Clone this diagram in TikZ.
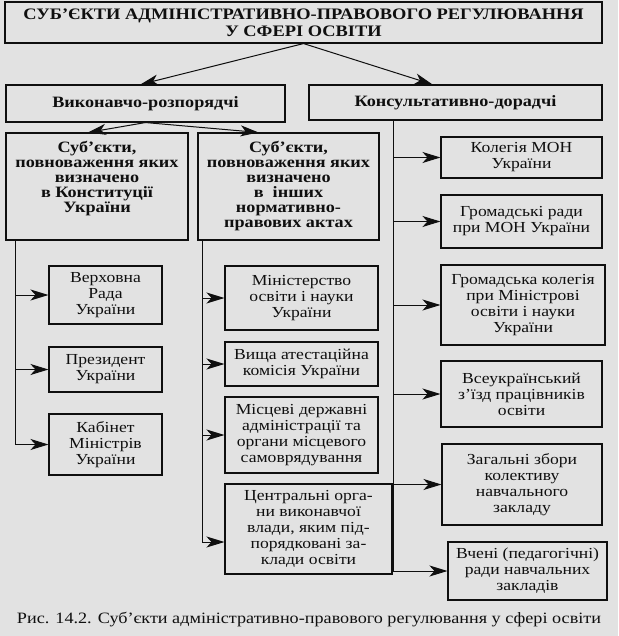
\documentclass[tikz,border=0pt]{standalone}
\usepackage{fontspec}
\setmainfont{Liberation Serif}[FakeStretch=1.15]
\usepackage{xcolor}
\usetikzlibrary{arrows.meta}
\definecolor{scanpaper}{RGB}{226,226,226}
\definecolor{scanink}{RGB}{15,15,15}
\tikzset{
  orgfont/.style={font=\fontsize{15.3}{16}\selectfont},
  orgbox/.style={draw=scanink, line width=1.1pt, align=center, inner sep=2pt, text=scanink, orgfont},
  orgboxbold/.style={orgbox, font=\fontsize{15.8}{15}\selectfont\bfseries},
  orgarrow/.style={-{Stealth[length=18pt, width=11pt, inset=5pt]}, line width=1pt, draw=scanink},
}

\begin{document}
\begin{tikzpicture}[x=1pt, y=-1pt]
		% Paper
		\fill[scanpaper] (0,0) rectangle (618,636);
		\useasboundingbox (0,0) rectangle (618,636);

		% Title and the two groups
		\node[orgboxbold, font=\fontsize{16}{17}\selectfont\bfseries, minimum width=597, minimum height=41] (title) at (303.5,22.5)
		{СУБ’ЄКТИ АДМІНІСТРАТИВНО-ПРАВОВОГО РЕГУЛЮВАННЯ\\У СФЕРІ ОСВІТИ};
		\node[orgboxbold, minimum width=279, minimum height=37] (vykon) at (145.5,103.5) {Виконавчо-розпорядчі};
		\node[orgboxbold, minimum width=293, minimum height=35] (konsult) at (455.5,102.5) {Консультативно-дорадчі};
		\draw[orgarrow] (title.south) -- ([xshift=-5pt]vykon.north);
		\draw[orgarrow] (title.south) -- ([xshift=-23pt]konsult.north);

		% Executive subgroups
		\node[orgboxbold, minimum width=182, minimum height=107] (konst) at (97,186.5)
		{Суб’єкти,\\повноваження яких\\визначено\\в Конституції\\України\\[4pt]\mbox{}};
		\node[orgboxbold, minimum width=181, minimum height=107] (inshi) at (288.5,186.5)
		{Суб’єкти,\\повноваження яких\\визначено\\в \ інших\\нормативно-\\правових актах};
		\draw[orgarrow] (vykon.south) -- ([xshift=-9pt]konst.north);
		\draw[orgarrow] (vykon.south) -- ([xshift=-30pt]inshi.north);

		% Constitution column
		\node[orgbox, minimum width=113, minimum height=58] (rada) at (105.5,295) {Верховна\\Рада\\України};
		\node[orgbox, minimum width=113, minimum height=45] (prez) at (105.5,369.5) {Президент\\України};
		\node[orgbox, minimum width=113, minimum height=61] (kabmin) at (105.5,444.5) {Кабінет\\Міністрів\\України};
		\draw[orgarrow] ([xshift=10pt]konst.south west) |- (rada.west);
		\draw[orgarrow] ([xshift=10pt]konst.south west) |- (prez.west);
		\draw[orgarrow] ([xshift=10pt]konst.south west) |- (kabmin.west);

		% Other acts column
		\node[orgbox, minimum width=153, minimum height=64] (mon) at (301.5,298) {Міністерство\\освіти і науки\\України};
		\node[orgbox, minimum width=153, minimum height=44] (vak) at (301.5,364) {Вища атестаційна\\комісія України};
		\node[orgbox, minimum width=153, minimum height=76] (mistsevi) at (301.5,435)
		{Місцеві державні\\адміністрації та\\органи місцевого\\самоврядування};
		\node[orgbox, minimum width=167, minimum height=90] (tsentr) at (308.5,529)
		{Центральні орга-\\ни виконавчої\\влади, яким під-\\порядковані за-\\клади освіти};
		\draw[orgarrow] ([xshift=5pt]inshi.south west) |- (mon.west);
		\draw[orgarrow] ([xshift=5pt]inshi.south west) |- (vak.west);
		\draw[orgarrow] ([xshift=5pt]inshi.south west) |- (mistsevi.west);
		\draw[orgarrow] ([xshift=5pt]inshi.south west) |- ([yshift=-13pt]tsentr.west);

		% Consultative column
		\node[orgbox, minimum width=161, minimum height=41] (kolegia) at (521.5,157.5) {Колегія МОН\\України};
		\node[orgbox, minimum width=161, minimum height=53] (hromrady) at (521.5,221.5) {Громадські ради\\при МОН України};
		\node[orgbox, minimum width=164, minimum height=80] (hromkol) at (523,305)
		{Громадська колегія\\при Міністрові\\освіти і науки\\України};
		\node[orgbox, minimum width=161, minimum height=66] (zizd) at (521.5,394) {Всеукраїнський\\з’їзд працівників\\освіти};
		\node[orgbox, minimum width=160, minimum height=81] (zbory) at (522,484.5) {Загальні збори\\колективу\\навчального\\закладу};
		\node[orgbox, minimum width=159, minimum height=58] (vcheni) at (527.5,571) {Вчені (педагогічні)\\ради навчальних\\закладів};
		\foreach \target in {kolegia, hromrady, hromkol, zizd, zbory, vcheni}
			\draw[orgarrow] ([xshift=-62.5pt]konsult.south) |- (\target.west);

		% Caption
		\node[orgfont, font=\fontsize{15.8}{16}\selectfont, text=scanink] (caption) at (309,620)
		{Рис. 14.2. Суб’єкти адміністративно-правового регулювання у сфері освіти};
	\end{tikzpicture}
\end{document}
